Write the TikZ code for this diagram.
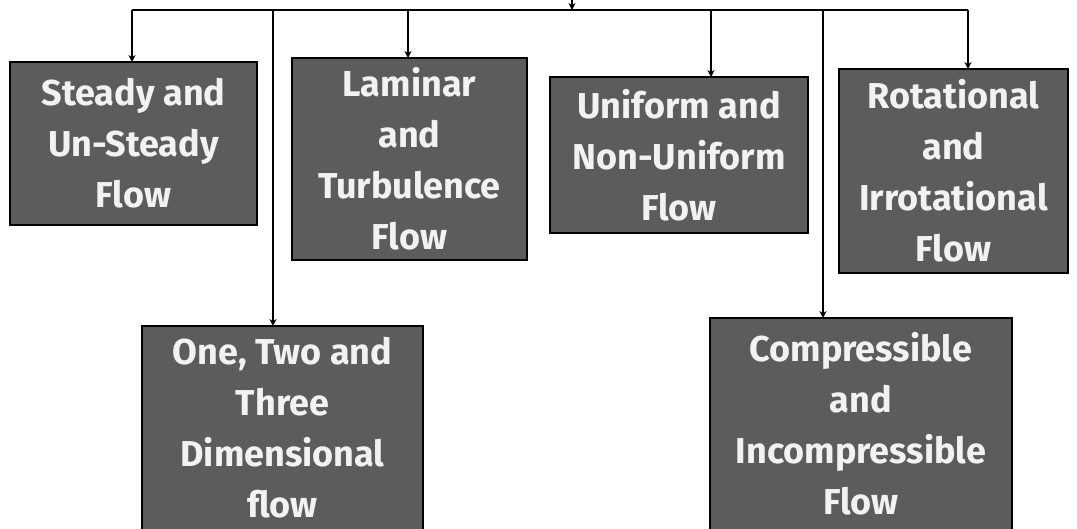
\documentclass[tikz,border=0pt]{standalone}
\usepackage{fontspec}
\setmainfont{Fira Sans}
\usetikzlibrary{arrows.meta}
\definecolor{boxgray}{RGB}{92,92,92}
\definecolor{txtgray}{RGB}{242,242,242}
\tikzset{
  flowbox/.style={draw=black, line width=1.6pt, fill=boxgray, text=txtgray,
    align=center, inner sep=0pt, outer sep=0pt,
    font=\fontsize{36}{51}\selectfont\bfseries},
  conn/.style={draw=black, line width=1.8pt},
  arr/.style={conn, -{Stealth[length=7pt,width=7pt]}}
}
\begin{document}
\begin{tikzpicture}[x=1pt,y=-1pt]
\useasboundingbox (0,0) rectangle (1077,529);
% boxes: center, width, height
\node[flowbox, minimum width=247pt, minimum height=163pt] (b1) at (133.5,143.5) {Steady and\\Un-Steady\\Flow};
\node[flowbox, minimum width=235pt, minimum height=202pt] (b2) at (409.5,159) {Laminar\\and\\Turbulence\\Flow};
\node[flowbox, minimum width=258pt, minimum height=156pt] (b3) at (679,155) {Uniform and\\Non-Uniform\\Flow};
\node[flowbox, minimum width=229pt, minimum height=204pt] (b4) at (953.5,171) {Rotational\\and\\Irrotational\\Flow};
\node[flowbox, minimum width=281pt, minimum height=204pt] (b5) at (282.5,428) {One, Two and\\Three\\Dimensional\\flow};
\node[flowbox, minimum width=302pt, minimum height=212pt] (b6) at (861,424) {Compressible\\and\\Incompressible\\Flow};
% connector points on the top bar
\coordinate (src) at (572,0);
\coordinate (t1) at (132,10);
\coordinate (t5) at (273,10);
\coordinate (t2) at (408,10);
\coordinate (tc) at (572,10);
\coordinate (t3) at (711,10);
\coordinate (t6) at (823,10);
\coordinate (t4) at (968,10);
\draw[conn] (t1) -- (t4);
\draw[arr] (src) -- (tc);
\draw[arr] (t1) -- (t1 |- b1.north);
\draw[arr] (t2) -- (t2 |- b2.north);
\draw[arr] (t3) -- (t3 |- b3.north);
\draw[arr] (t4) -- (t4 |- b4.north);
\draw[arr] (t5) -- (t5 |- b5.north);
\draw[arr] (t6) -- (t6 |- b6.north);
\end{tikzpicture}
\end{document}
